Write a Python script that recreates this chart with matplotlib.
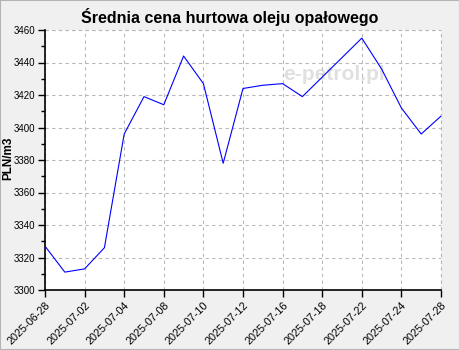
import matplotlib
matplotlib.use("Agg")
import matplotlib.pyplot as plt
from matplotlib.patches import Rectangle

# ------------------------------------------------------
# DATA
# ------------------------------------------------------

prices = [3327, 3311, 3313, 3326, 3396, 3419, 3414, 3444, 3427, 3378,
          3424, 3426, 3427, 3419, 3431, 3443, 3455, 3436, 3412, 3396, 3407]

tick_labels = ["2025-06-28", "2025-07-02", "2025-07-04", "2025-07-08",
               "2025-07-10", "2025-07-12", "2025-07-16", "2025-07-18",
               "2025-07-22", "2025-07-24", "2025-07-28"]

y_ticks = [3300, 3320, 3340, 3360, 3380, 3400, 3420, 3440, 3460]

plt.rcParams["font.family"] = ["Liberation Sans", "DejaVu Sans"]

# ------------------------------------------------------
# FIGURE
# ------------------------------------------------------

W, H = 460, 350
fig = plt.figure(figsize=(W / 100, H / 100), dpi=100, facecolor="#f0f0f0")
fig.patches.append(Rectangle((0, 0), 1, 1, transform=fig.transFigure,
                             fill=False, edgecolor="#b4b4b4", linewidth=1.5))

left, right, top, bottom = 45, 441, 30, 290
ax = fig.add_axes([left / W, 1 - bottom / H, (right - left) / W, (bottom - top) / H])
ax.set_facecolor("white")

x = list(range(len(prices)))
ax.plot(x, prices, color="#0000ff", linewidth=0.8, zorder=3)

ax.set_xlim(0, len(prices) - 1)
ax.set_ylim(3300, 3460)

ax.set_xticks(x[::2])
ax.set_xticklabels(tick_labels, rotation=45, ha="right", rotation_mode="anchor",
                   fontsize=7.8)
ax.set_yticks(y_ticks)
ax.set_yticklabels([str(v) for v in y_ticks], fontsize=7)
ax.set_yticks(range(3300, 3461, 10), minor=True)

ax.tick_params(axis="x", direction="out", length=5, width=1, pad=2)
ax.tick_params(axis="y", which="major", direction="out", length=5, width=1, pad=2)
ax.tick_params(axis="y", which="minor", direction="out", length=3, width=1)

grid_style = dict(color="#b8b8b8", linestyle=(0, (3, 3)), linewidth=0.8)
ax.grid(True, which="major", **grid_style)
for side in ("top", "right"):
    ax.spines[side].set_visible(False)
for side in ("left", "bottom"):
    ax.spines[side].set_linewidth(1.2)

# top / right border drawn as dashed grid lines like the reference
ax.axhline(3460, clip_on=False, **grid_style)
ax.axvline(len(prices) - 1, clip_on=False, **grid_style)

fig.text(8 / W, 1 - 158 / H, "PLN/m3", rotation=90, ha="center", va="center",
         fontsize=8.5, fontweight="bold")

fig.text(0.5, 1 - 17 / H, "Średnia cena hurtowa oleju opałowego",
         ha="center", va="center", fontsize=11.5, fontweight="bold")

# faint watermark
ax.text(0.73, 0.83, "e-petrol.pl", transform=ax.transAxes, ha="center", va="center",
        fontsize=15, color="#9a9a9a", alpha=0.3, fontweight="bold", zorder=1)

fig.savefig("out.png", dpi=100, facecolor=fig.get_facecolor())
